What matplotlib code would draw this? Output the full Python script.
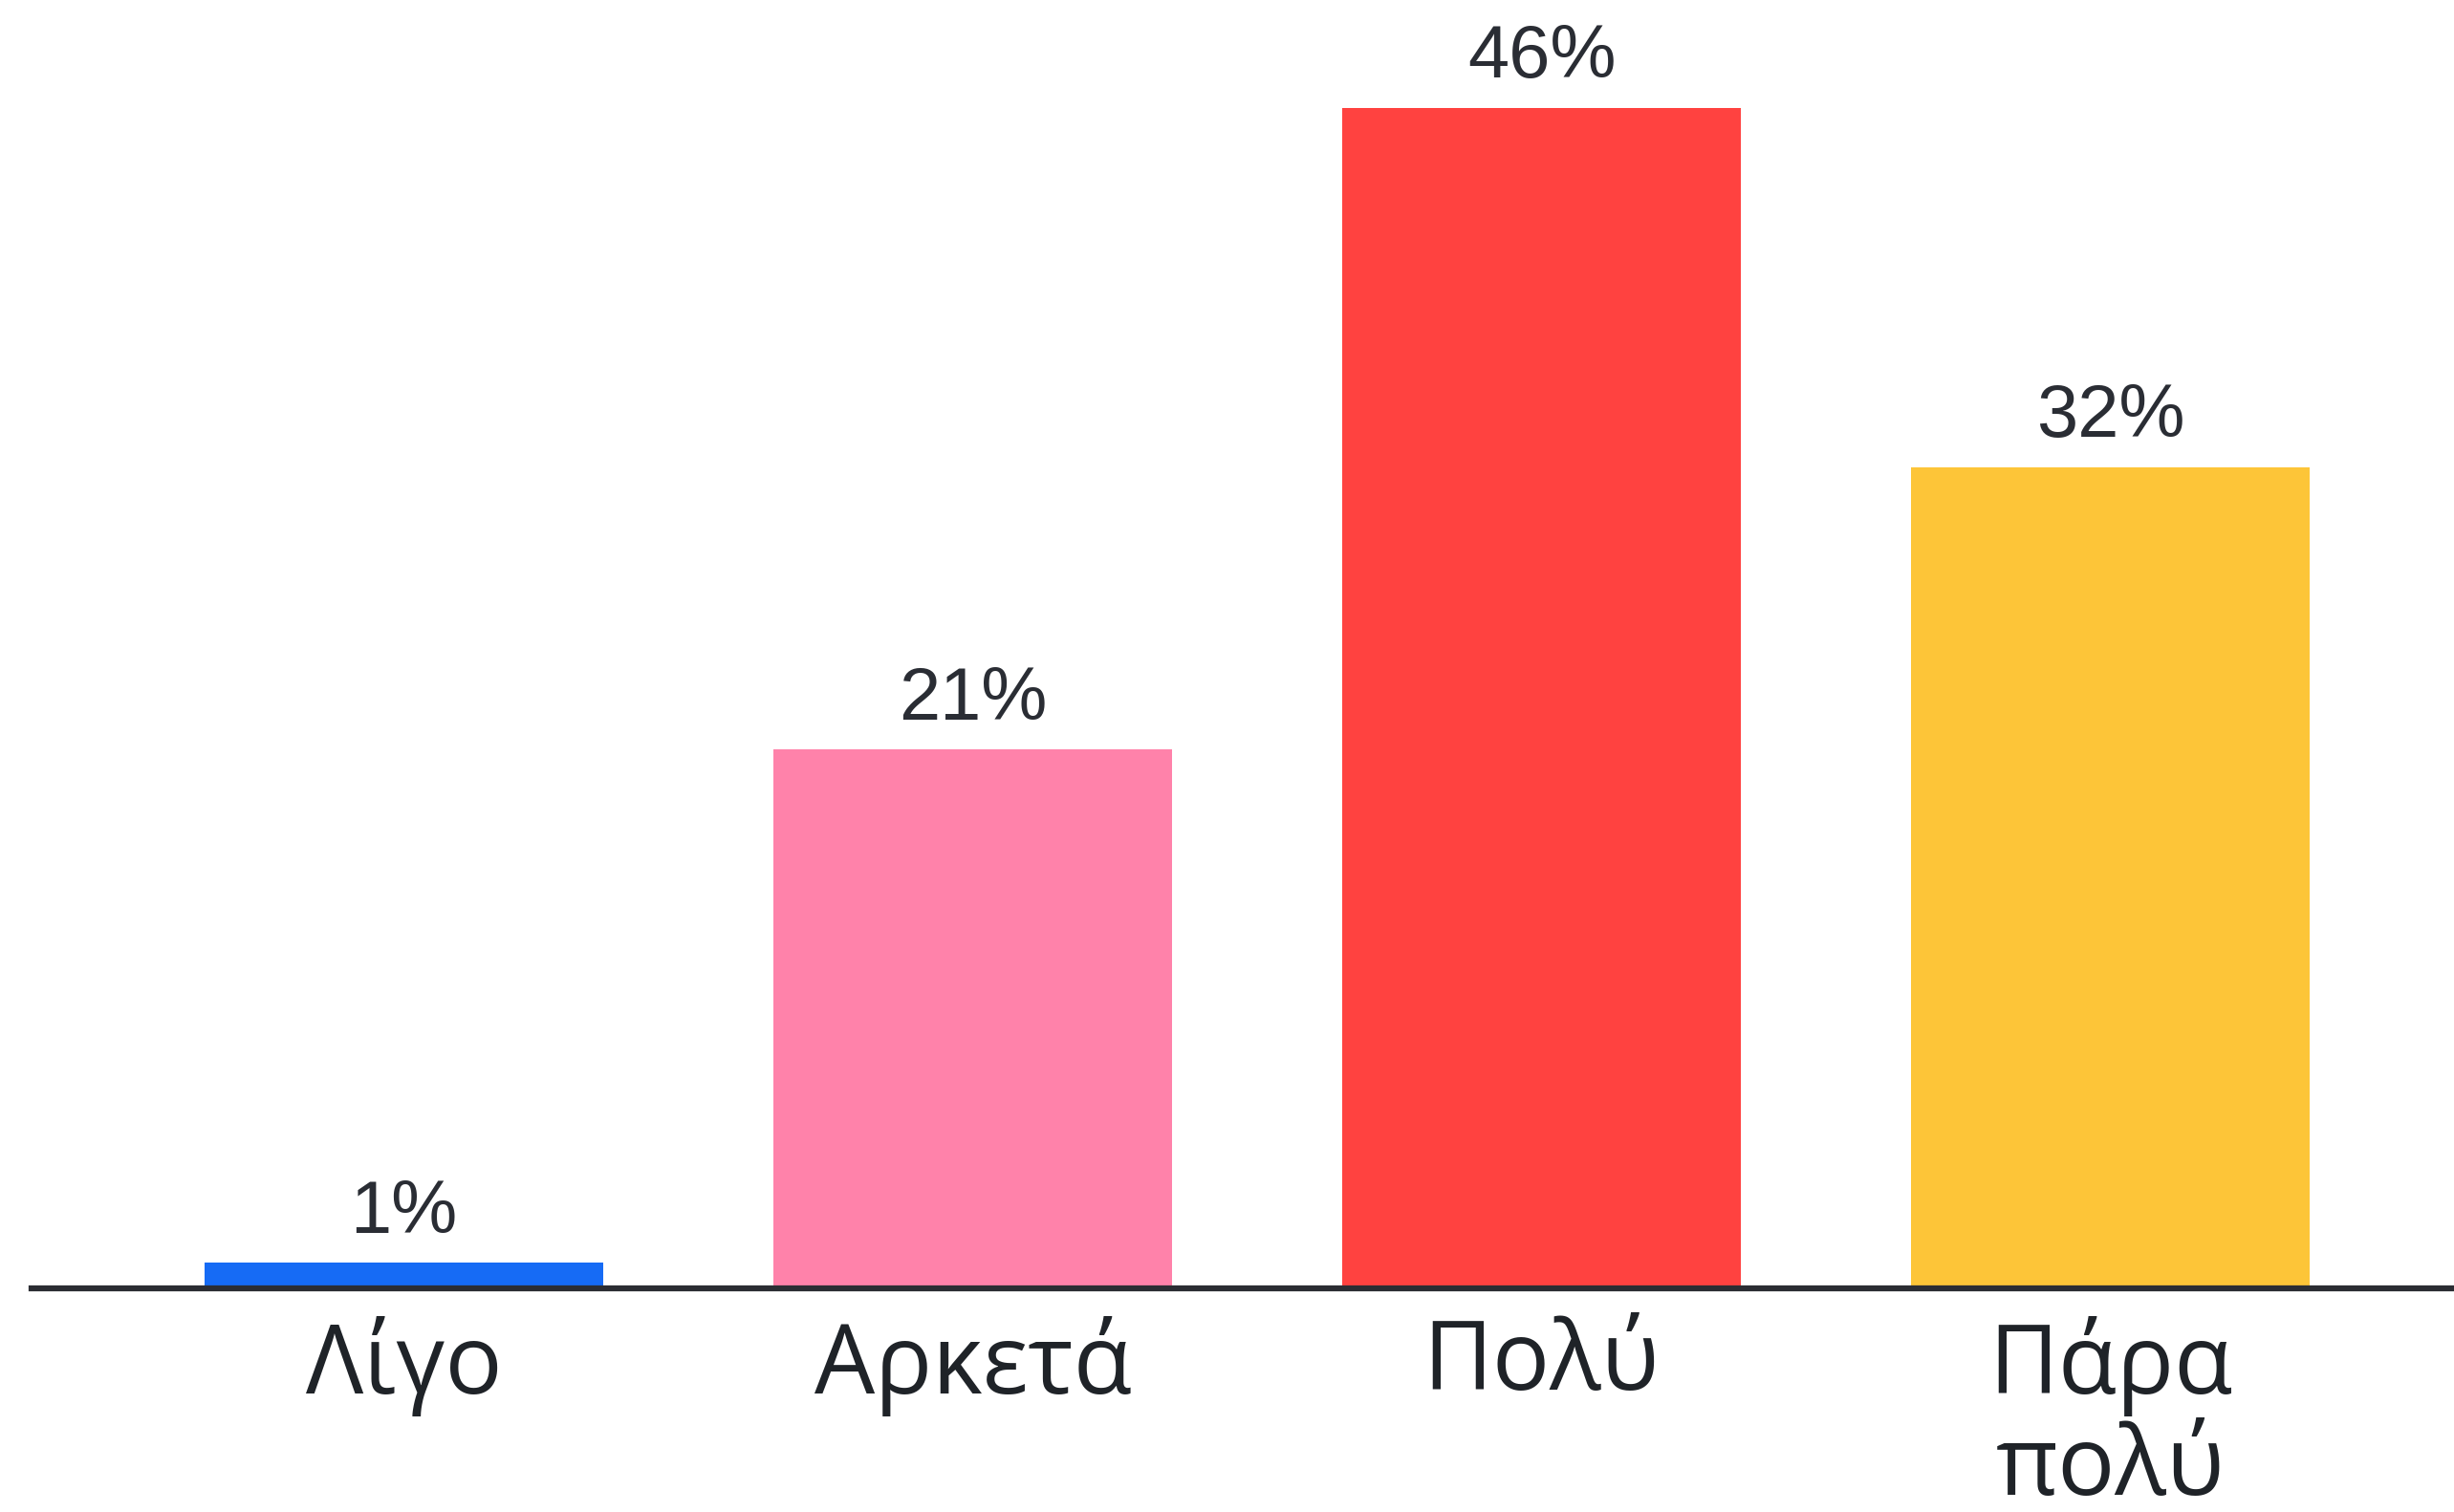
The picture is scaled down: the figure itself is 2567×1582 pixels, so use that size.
import matplotlib.pyplot as plt

# answer categories and share of respondents (%)
categories = ['Λίγο', 'Αρκετά', 'Πολύ', 'Πάρα\nπολύ']
values = [1, 21, 46, 32]
colors = ['#166bf5', '#ff82aa', '#ff4240', '#fdc538']

fig = plt.figure(figsize=(25.67, 15.82), dpi=100)
ax = fig.add_axes([0.0128, 0.148, 0.9872, 0.852])

x = list(range(len(categories)))
bars = ax.bar(x, values, width=0.7, color=colors, zorder=2)

# value labels above the bars
ax.bar_label(bars, labels=[f'{v}%' for v in values], padding=11,
             fontsize=56, color='#2a2d34', family=['Liberation Sans', 'DejaVu Sans'])

ax.set_xlim(-0.655, 3.604)
ax.set_ylim(0, 50.2)

ax.set_xticks(x)
ax.set_xticklabels(categories, fontsize=72, color='#1f2328',
                   family=['Open Sans', 'Noto Sans', 'DejaVu Sans'], linespacing=1.07)
ax.tick_params(axis='x', length=0, pad=21)
ax.set_yticks([])

for side in ['top', 'right', 'left']:
    ax.spines[side].set_visible(False)
ax.spines['bottom'].set_color('#2b2d33')
ax.spines['bottom'].set_linewidth(4.5)
ax.spines['bottom'].set_zorder(3)

fig.savefig('out.png', dpi=100)
